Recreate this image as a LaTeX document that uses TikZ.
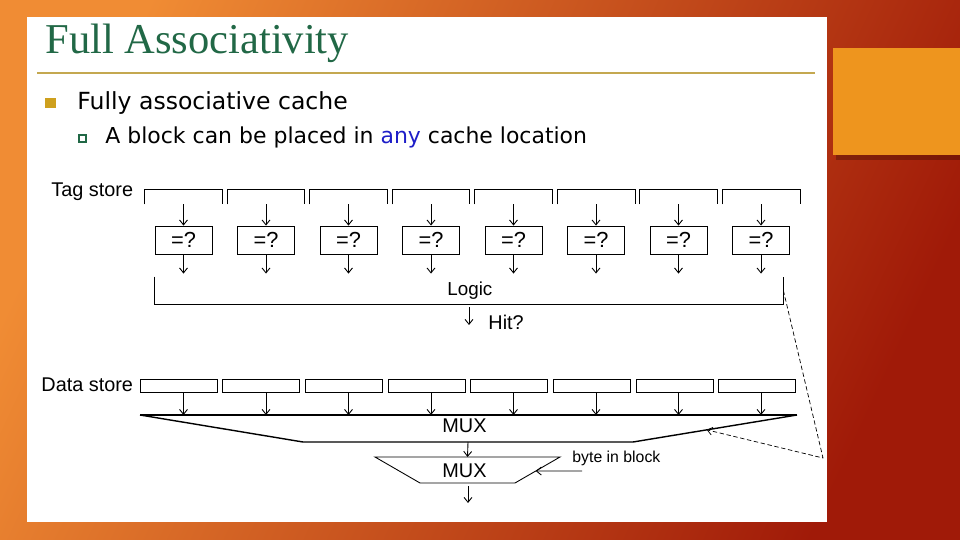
\documentclass[tikz,border=0pt]{standalone}
\usepackage{fontspec}
\newfontfamily\titlefont{Liberation Serif}
\newfontfamily\slidefont{DejaVu Sans}
\newfontfamily\figfont{Liberation Sans}
\usepackage{tikz}
\usetikzlibrary{calc, positioning, arrows.meta}
\usepackage{xcolor}
\definecolor{bgOrange}{RGB}{240,140,52}
\definecolor{bgRed}{RGB}{160,26,8}
\definecolor{boxOrange}{RGB}{238,149,30}
\definecolor{titleGreen}{RGB}{33,104,70}
\definecolor{ruleGold}{RGB}{196,168,80}
\definecolor{bulletGold}{RGB}{206,160,30}
\definecolor{anyBlue}{RGB}{30,30,200}

\begin{document}
\begin{tikzpicture}[x=0.02cm, y=-0.02cm, line width=0.5pt,
  font=\figfont\fontsize{11.3}{13}\selectfont,
  sig/.style={-{Straight Barb[length=2.8pt,width=4.5pt]}},
  tagbox/.style={minimum width=1.54cm, minimum height=0.28cm, inner sep=0pt},
  cmpbox/.style={draw, minimum width=1.14cm, minimum height=0.56cm, inner sep=0pt,
    font=\figfont\fontsize{12.4}{14}\selectfont},
  databox/.style={draw, minimum width=1.54cm, minimum height=0.26cm, inner sep=0pt},
  lbl/.style={anchor=base west, inner sep=0pt}]
  \useasboundingbox (0,0) rectangle (960,540);
  % slide background
  \shade[left color=bgOrange, right color=bgRed, shading angle=65] (0,0) rectangle (960,540);
  \fill[white] (27,17) rectangle (827,522);
  \fill[black, opacity=0.25] (836,155) rectangle (960,160);
  \fill[boxOrange] (833,48) rectangle (960,155);

  % title and bullets
  \node[lbl, font=\titlefont\fontsize{24.2}{28}\selectfont, text=titleGreen] (title) at (45,54) {Full Associativity};
  \draw[ruleGold, line width=0.6pt] (37,73) -- (815,73);
  \fill[bulletGold] (45,98) rectangle (56,108);
  \node[lbl, font=\slidefont\fontsize{13.4}{16}\selectfont] (pt1) at (77,110) {Fully associative cache};
  \draw[titleGreen, line width=0.6pt] (79,135) rectangle (86,142);
  \node[lbl, font=\slidefont\fontsize{12.5}{15}\selectfont] (pt2) at (105,144)
    {A block can be placed in \textcolor{anyBlue}{any} cache location};

  % tag store, comparators
  \node[lbl] (tagl) at (51,197) {Tag store};
  \foreach \i in {1,...,8} {
    \node[tagbox] (tag\i) at ({183.5+82.5*(\i-1)},197) {};
    \draw (tag\i.south west) |- (tag\i.north) -| (tag\i.south east);
    \node[cmpbox] (cmp\i) at ({183.5+82.5*(\i-1)},240) {=?};
    \draw[sig] (tag\i) -- (cmp\i);
  }
  % logic
  \node[tagbox, minimum width=12.56cm, minimum height=0.54cm] (logic) at (469,290.5) {};
  \draw (logic.north west) |- (logic.south) -| (logic.north east);
  \node[lbl, font=\figfont\fontsize{10.7}{12}\selectfont] (logicl) at (447,296) {Logic};
  \foreach \i in {1,...,8}
    \draw[sig] (cmp\i) -- ([yshift=0.06cm]cmp\i |- logic.north);
  \coordinate (hitend) at (469,325);
  \draw[sig] ([yshift=-0.06cm]logic.south) -- (hitend);
  \node[lbl] (hit) at (488,330) {Hit?};

  % data store
  \node[lbl] (datal) at (41,392) {Data store};
  \foreach \i in {1,...,8}
    \node[databox] (data\i) at ({178.5+82.7*(\i-1)},385.5) {};

  % first mux
  \coordinate (m1tl) at (140,415);
  \coordinate (m1tr) at (797,415);
  \coordinate (m1br) at (633,442);
  \coordinate (m1bl) at (303,442);
  \draw[line width=0.8pt] (m1tr) -- (m1br) -- (m1bl) -- (m1tl);
  \draw[line width=1.3pt] (m1tl) -- (m1tr);
  \node[lbl] (mux1) at (442,433) {MUX};
  \foreach \i in {1,...,8}
    \draw[sig] (cmp\i |- data\i.south) -- (cmp\i |- m1tl);

  % second mux
  \coordinate (m2tl) at (375,457);
  \coordinate (m2tr) at (560,457);
  \coordinate (m2br) at (515,483);
  \coordinate (m2bl) at (420,483);
  \draw (m2tl) -- (m2tr) -- (m2br) -- (m2bl) -- cycle;
  \node[lbl] (mux2) at (442,477) {MUX};
  \draw[sig] ($(m1bl)!0.5!(m1br)$) -- ($(m2tl)!0.5!(m2tr)$);
  \coordinate (outend) at (468,503);
  \draw[sig] (468,486) -- (outend);

  % byte in block select
  \node[lbl, font=\figfont\fontsize{9}{11}\selectfont] (bytel) at (572,462) {byte in block};
  \coordinate (bytesrc) at (582,471);
  \draw[sig] (bytesrc) -- ($(m2tr)!0.54!(m2br)$);

  % hit path to the mux (dashed)
  \coordinate (bend) at (823,458);
  \draw[sig, dash pattern=on 2.5pt off 1.5pt, line width=0.4pt]
    (logic.east) -- (bend) -- ($(m1tr)!0.55!(m1br)$);
\end{tikzpicture}
\end{document}
